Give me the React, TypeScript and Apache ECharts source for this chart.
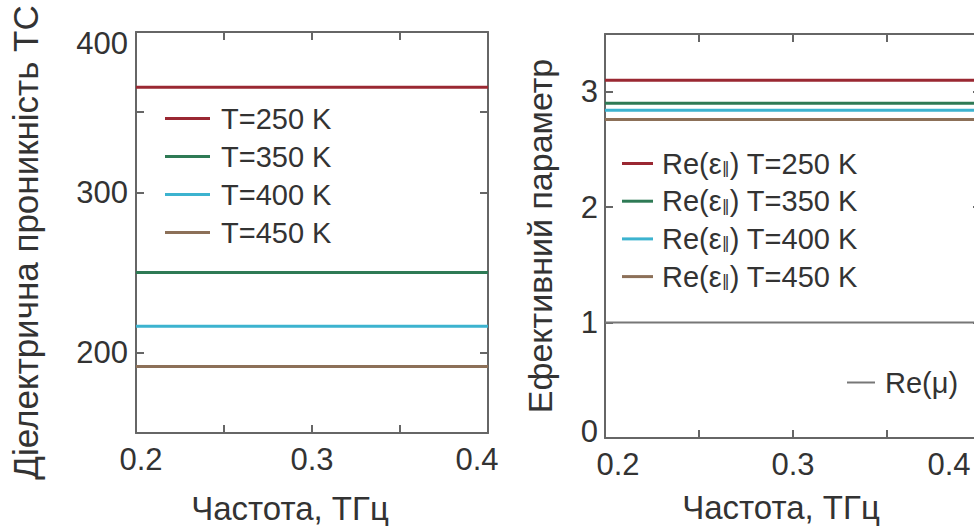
import React, { useEffect, useRef } from "react";
import * as echarts from "echarts";

const freq = [0.2, 0.25, 0.3, 0.35, 0.4];

const leftNames = ["T=250 K", "T=350 K", "T=400 K", "T=450 K"];
const leftLevels = [365.5, 250, 216.5, 191.5];

const rightNames = ["Re(ε‖) T=250 K", "Re(ε‖) T=350 K", "Re(ε‖) T=400 K", "Re(ε‖) T=450 K"];
const rightLevels = [3.1, 2.9, 2.84, 2.76];
const muName = "Re(μ)";
const muLevel = 1;

const colors = ["#9a2832", "#2e7a55", "#3cb3cf", "#8c7058"];
const muColor = "#777777";

const xTitle = "Частота, ТГц";
const leftYTitle = "Діелектрична проникність ТС";
const rightYTitle = "Ефективний параметр";

const FONT = "Liberation Sans";
const TXT = "#333333";
const AX = "#666666";

function axisBase(extra: any) {
  return {
    axisLine: { show: true, onZero: false, lineStyle: { color: AX, width: 2 } },
    axisTick: { show: true, inside: true, length: 8, lineStyle: { color: AX, width: 2 } },
    splitLine: { show: false },
    ...extra,
  };
}

function xLabel(g: number) {
  const lab = { fontSize: 31, color: TXT, fontFamily: FONT };
  return {
    ...lab,
    margin: 11,
    formatter: (v: number) => {
      const r = Math.round(v * 100) / 100;
      if (Math.abs(r * 10 - Math.round(r * 10)) > 1e-6) return "";
      const s = r.toFixed(1);
      if (r === 0.2) return "{a|" + s + "}";
      if (r === 0.4) return "{z|" + s + "}";
      return s;
    },
    rich: {
      a: { ...lab, padding: [0, 0, 0, g === 0 ? 10 : 26] },
      z: { ...lab, padding: [0, g === 0 ? 22 : 64, 0, 0] },
    },
  };
}

export default function App() {
  const ref = useRef<HTMLDivElement>(null);
  useEffect(() => {
    const chart = echarts.init(ref.current!, null, { renderer: "svg" });
    const xAxes: any[] = [];
    const yAxes: any[] = [];
    [0, 1].forEach((g) => {
      xAxes.push(
        axisBase({
          type: "value",
          gridIndex: g,
          position: "bottom",
          min: 0.2,
          max: 0.4,
          interval: 0.05,
          axisLabel: xLabel(g),
          name: xTitle,
          nameLocation: "middle",
          nameGap: g === 0 ? 58 : 52,
          nameTextStyle: {
            fontSize: 33,
            lineHeight: 34,
            color: TXT,
            fontFamily: FONT,
            padding: g === 0 ? [0, 44, 0, 0] : [0, 24, 0, 0],
          },
        })
      );
      xAxes.push(
        axisBase({
          type: "value",
          gridIndex: g,
          position: "top",
          min: 0.2,
          max: 0.4,
          interval: 0.05,
          axisLabel: { show: false },
        })
      );
    });
    yAxes.push(
      axisBase({
        type: "value",
        gridIndex: 0,
        position: "left",
        min: 150,
        max: 400,
        interval: 50,
        axisLabel: {
          fontSize: 31,
          color: TXT,
          fontFamily: FONT,
          margin: 8,
          formatter: (v: number) => (v === 400 ? "{t|400}" : v % 100 === 0 ? String(v) : ""),
          rich: { t: { fontSize: 31, color: TXT, fontFamily: FONT, padding: [22, 0, 0, 0] } },
        },
        name: leftYTitle,
        nameLocation: "middle",
        nameGap: 93,
        nameTextStyle: { fontSize: 35, color: TXT, fontFamily: FONT, padding: [0, 20, 0, 0] },
      })
    );
    yAxes.push(
      axisBase({
        type: "value",
        gridIndex: 0,
        position: "right",
        min: 150,
        max: 400,
        interval: 50,
        axisLabel: { show: false },
      })
    );
    yAxes.push(
      axisBase({
        type: "value",
        gridIndex: 1,
        position: "left",
        min: 0,
        max: 3.5,
        interval: 1,
        axisLabel: {
          fontSize: 31,
          color: TXT,
          fontFamily: FONT,
          margin: 7,
          formatter: (v: number) => (v === 0 ? "{b|0}" : Number.isInteger(v) ? String(v) : ""),
          rich: { b: { fontSize: 31, color: TXT, fontFamily: FONT, padding: [0, 0, 14, 0] } },
        },
        name: rightYTitle,
        nameLocation: "middle",
        nameGap: 48,
        nameTextStyle: { fontSize: 34, color: TXT, fontFamily: FONT },
      })
    );
    yAxes.push(
      axisBase({
        type: "value",
        gridIndex: 1,
        position: "right",
        min: 0,
        max: 3.5,
        interval: 1,
        axisLabel: { show: false },
      })
    );

    const series: any[] = [];
    leftNames.forEach((n, i) => {
      series.push({
        type: "line",
        name: n,
        xAxisIndex: 0,
        yAxisIndex: 0,
        showSymbol: false,
        symbol: "none",
        lineStyle: { color: colors[i], width: 3 },
        itemStyle: { color: colors[i] },
        data: freq.map((f) => [f, leftLevels[i]]),
      });
    });
    rightNames.forEach((n, i) => {
      series.push({
        type: "line",
        name: n,
        xAxisIndex: 2,
        yAxisIndex: 2,
        showSymbol: false,
        symbol: "none",
        lineStyle: { color: colors[i], width: 3 },
        itemStyle: { color: colors[i] },
        data: freq.map((f) => [f, rightLevels[i]]),
      });
    });
    series.push({
      type: "line",
      name: muName,
      xAxisIndex: 2,
      yAxisIndex: 2,
      showSymbol: false,
      symbol: "none",
      lineStyle: { color: muColor, width: 2 },
      itemStyle: { color: muColor },
      data: freq.map((f) => [f, muLevel]),
    });

    const legendText = { fontSize: 29, color: TXT, fontFamily: FONT, lineHeight: 28 };
    chart.setOption({
      animation: false,
      backgroundColor: "#ffffff",
      grid: [
        { left: 136, top: 32, width: 352, height: 401, outerBoundsMode: "none", containLabel: false },
        { left: 605, top: 34, width: 376, height: 404, outerBoundsMode: "none", containLabel: false },
      ],
      xAxis: xAxes,
      yAxis: yAxes,
      legend: [
        {
          data: leftNames,
          orient: "vertical",
          left: 160,
          top: 99,
          padding: 5,
          itemWidth: 45,
          itemHeight: 3,
          itemGap: 9,
          icon: "rect",
          selectedMode: false,
          textStyle: { ...legendText, padding: [0, 0, 0, 6] },
        },
        {
          data: rightNames,
          orient: "vertical",
          left: 617,
          top: 144,
          padding: 5,
          itemWidth: 31,
          itemHeight: 3,
          itemGap: 8.7,
          icon: "rect",
          selectedMode: false,
          formatter: (name: string) => name.replace("ε‖", "ε{s|‖}"),
          textStyle: {
            ...legendText,
            padding: [0, 0, 0, 4],
            rich: {
              s: { fontSize: 16, color: TXT, fontFamily: "DejaVu Sans", padding: [8, 0, 0, 0] },
            },
          },
        },
        {
          data: [muName],
          orient: "vertical",
          left: 842,
          top: 363,
          padding: 5,
          itemWidth: 28,
          itemHeight: 2,
          icon: "rect",
          selectedMode: false,
          textStyle: { ...legendText, padding: [0, 0, 0, 5] },
        },
      ],
      series,
    });
    return () => chart.dispose();
  }, []);
  return (
    <div
      ref={ref}
      style={{ position: "absolute", left: 0, top: 0, width: 974, height: 526, overflow: "hidden" }}
    />
  );
}
